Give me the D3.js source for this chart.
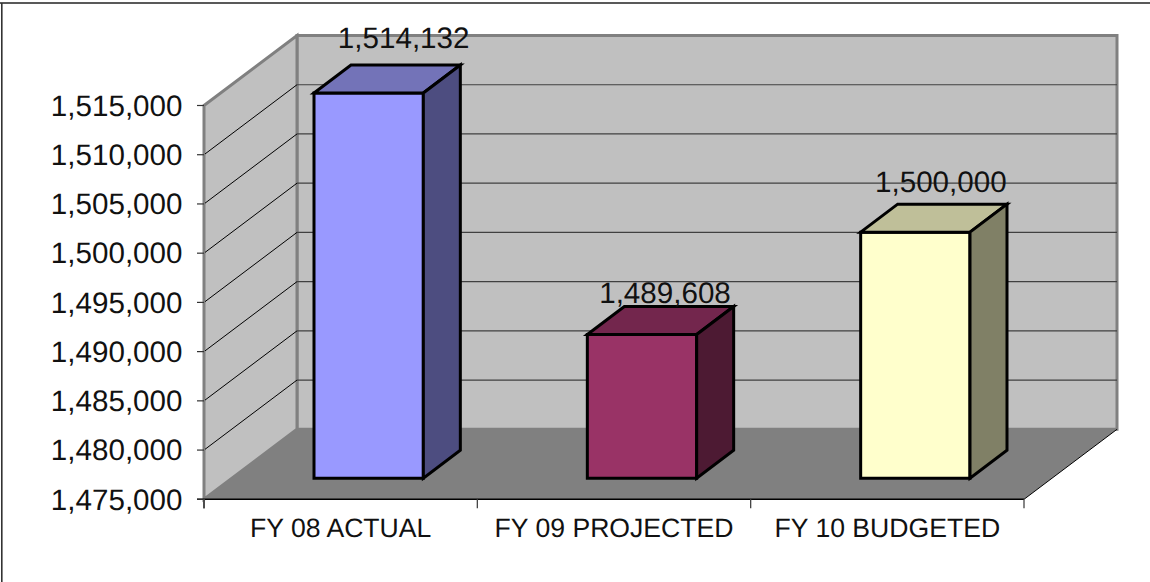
<!DOCTYPE html>
<html><head><meta charset="utf-8">
<script src="https://cdn.jsdelivr.net/npm/d3@7"></script>
<style>html,body{margin:0;padding:0;background:#fff}svg{display:block}text{font-family:"Liberation Sans",Arial,sans-serif;fill:#111;text-rendering:geometricPrecision}</style>
</head><body><div id="c"></div>
<script>
const categories = ["FY 08 ACTUAL","FY 09 PROJECTED","FY 10 BUDGETED"];
const values = [1514132,1489608,1500000];
const valueLabels = ["1,514,132","1,489,608","1,500,000"];
const tickValues = [1475000,1480000,1485000,1490000,1495000,1500000,1505000,1510000,1515000];
const faceColors = ["#9999ff","#993366","#ffffcc"];
const topColors = ["#7373b8","#73264d","#bfbf99"];
const sideColors = ["#4d4d80","#4d1a33","#808066"];

const W=1150,H=582, dx=93, dy=-70, barDx=37, barDy=-28, gapDx=28, gapDy=-21;
const labelShift=[[35,-16.7],[23,-3],[25.5,-12]];
const svg=d3.select("#c").append("svg").attr("width",W).attr("height",H);
const x=d3.scaleBand().domain(categories).range([204,1024]).paddingInner(.6).paddingOuter(.3);
const y=d3.scaleLinear().domain([1475000,1515000]).range([499.3,105.5]);
const y0=y.range()[0], y1=y.range()[1], xl=204, xr=1024;
const poly=(pts,fill,stroke,sw)=>svg.append("polygon").attr("points",pts.map(p=>p.join(",")).join(" ")).attr("fill",fill).attr("stroke",stroke||"none").attr("stroke-width",sw||0).attr("stroke-linejoin","miter");
const line=(a,b,c,w)=>svg.append("line").attr("x1",a[0]).attr("y1",a[1]).attr("x2",b[0]).attr("y2",b[1]).attr("stroke",c).attr("stroke-width",w);

// frame: only the top and left edges show in the picture
line([0,3],[W,3],"#222",1.6);
line([1.8,3],[1.8,H],"#333",1.6);

// walls
poly([[xl+dx,y1+dy],[xr+dx,y1+dy],[xr+dx,y0+dy],[xl+dx,y0+dy]],"#c0c0c0","#808080",3);
poly([[xl,y1],[xl+dx,y1+dy],[xl+dx,y0+dy],[xl,y0]],"#c0c0c0","#808080",3);
// gridlines
tickValues.slice(1,-1).forEach(t=>{
  const yy=y(t);
  line([xl+dx,yy+dy],[xr+dx,yy+dy],"#404040",1.2);
  line([xl,yy],[xl+dx,yy+dy],"#000",1);
});
// floor
poly([[xl,y0],[xl+dx,y0+dy],[xr+dx,y0+dy],[xr,y0]],"#808080");
line([xr,y0],[xr+dx,y0+dy],"#000",1);
// axes
line([xl,y1],[xl,y0+9],"#808080",2);
line([xl-7,y0],[xr,y0],"#000",1.5);
line([xl,y0],[xl,y0+9],"#555",1.5);
tickValues.forEach(t=>{ line([xl-7,y(t)],[xl,y(t)],"#333",1.2);
  svg.append("text").attr("x",182.5).attr("y",y(t)+10.2).attr("text-anchor","end").attr("font-size",29.6).text(d3.format(",")(t));
});
const step=x.step();
d3.range(4).forEach(i=>line([xl+i*step,y0],[xl+i*step,y0+9],"#444",1.3));
categories.forEach(c=>svg.append("text").attr("x",x(c)+x.bandwidth()/2).attr("y",537).attr("text-anchor","middle").attr("font-size",26.6).text(c));
// bars
categories.forEach((c,i)=>{
  const l=x(c)+gapDx, r=l+x.bandwidth(), t=y(values[i])+gapDy, b=y0+gapDy;
  poly([[l,t],[r,t],[r,b],[l,b]],faceColors[i],"#000",3);
  poly([[l,t],[l+barDx,t+barDy],[r+barDx,t+barDy],[r,t]],topColors[i],"#000",3);
  poly([[r,t],[r+barDx,t+barDy],[r+barDx,b+barDy],[r,b]],sideColors[i],"#000",3);
});
categories.forEach((c,i)=>{
  const l=x(c)+gapDx, t=y(values[i])+gapDy;
  svg.append("text").attr("x",l+x.bandwidth()/2+labelShift[i][0]).attr("y",t+barDy+labelShift[i][1]).attr("text-anchor","middle").attr("font-size",29.6).text(valueLabels[i]);
});
</script></body></html>
